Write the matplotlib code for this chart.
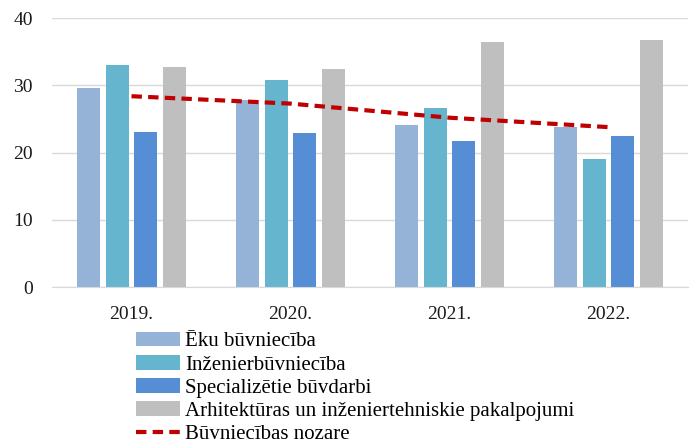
import matplotlib
matplotlib.use("Agg")
import matplotlib.pyplot as plt
import numpy as np

years = ["2019.", "2020.", "2021.", "2022."]
series_names = [
    "Ēku būvniecība",
    "Inženierbūvniecība",
    "Specializētie būvdarbi",
    "Arhitektūras un inženiertehniskie pakalpojumi",
]
eku = [29.6, 27.8, 24.1, 23.8]
inzenier = [33.1, 30.8, 26.7, 19.1]
special = [23.0, 22.9, 21.7, 22.5]
arhitekt = [32.8, 32.4, 36.5, 36.8]
nozare = [28.4, 27.3, 25.2, 23.8]
line_name = "Būvniecības nozare"

colors = ["#95B3D7", "#66B5CF", "#558ED5", "#BFBFBF"]

plt.rcParams["font.family"] = ["Liberation Serif", "DejaVu Serif"]

fig = plt.figure(figsize=(6.97, 4.46), dpi=100)
ax = fig.add_axes([0.0746, 0.3565, 0.9124, 0.6025])

x = np.arange(len(years))
pitch = 0.18
width = 0.143
handles = []
for i, (vals, c, name) in enumerate(zip([eku, inzenier, special, arhitekt], colors, series_names)):
    b = ax.bar(x + (i - 1.5) * pitch, vals, width, color=c, label=name, zorder=2)
    handles.append(b)
ln, = ax.plot(x, nozare, color="#C00000", linestyle=(0, (2.5, 1.5)), linewidth=3,
              label=line_name, zorder=3)
handles.append(ln)

ax.set_xlim(-0.5, 3.5)
ax.set_ylim(0, 40)
ax.set_yticks([0, 10, 20, 30, 40])
ax.set_xticks(x)
ax.set_xticklabels(years)
ax.yaxis.grid(True, color="#D9D9D9", linewidth=1, zorder=0)
ax.set_axisbelow(True)
for s in ["top", "right", "left"]:
    ax.spines[s].set_visible(False)
ax.spines["bottom"].set_color("#D9D9D9")
ax.tick_params(axis="both", length=0, labelsize=14, colors="#1a1a1a")
ax.tick_params(axis="y", pad=13.7)
ax.tick_params(axis="x", pad=13.6)

fig.legend(handles=handles, loc="upper left", bbox_to_anchor=(0.195, 0.256),
           frameon=False, fontsize=15, handlelength=2.1, handletextpad=0.27,
           labelspacing=0.17, borderpad=0, borderaxespad=0)

fig.savefig("out.png", dpi=100)
